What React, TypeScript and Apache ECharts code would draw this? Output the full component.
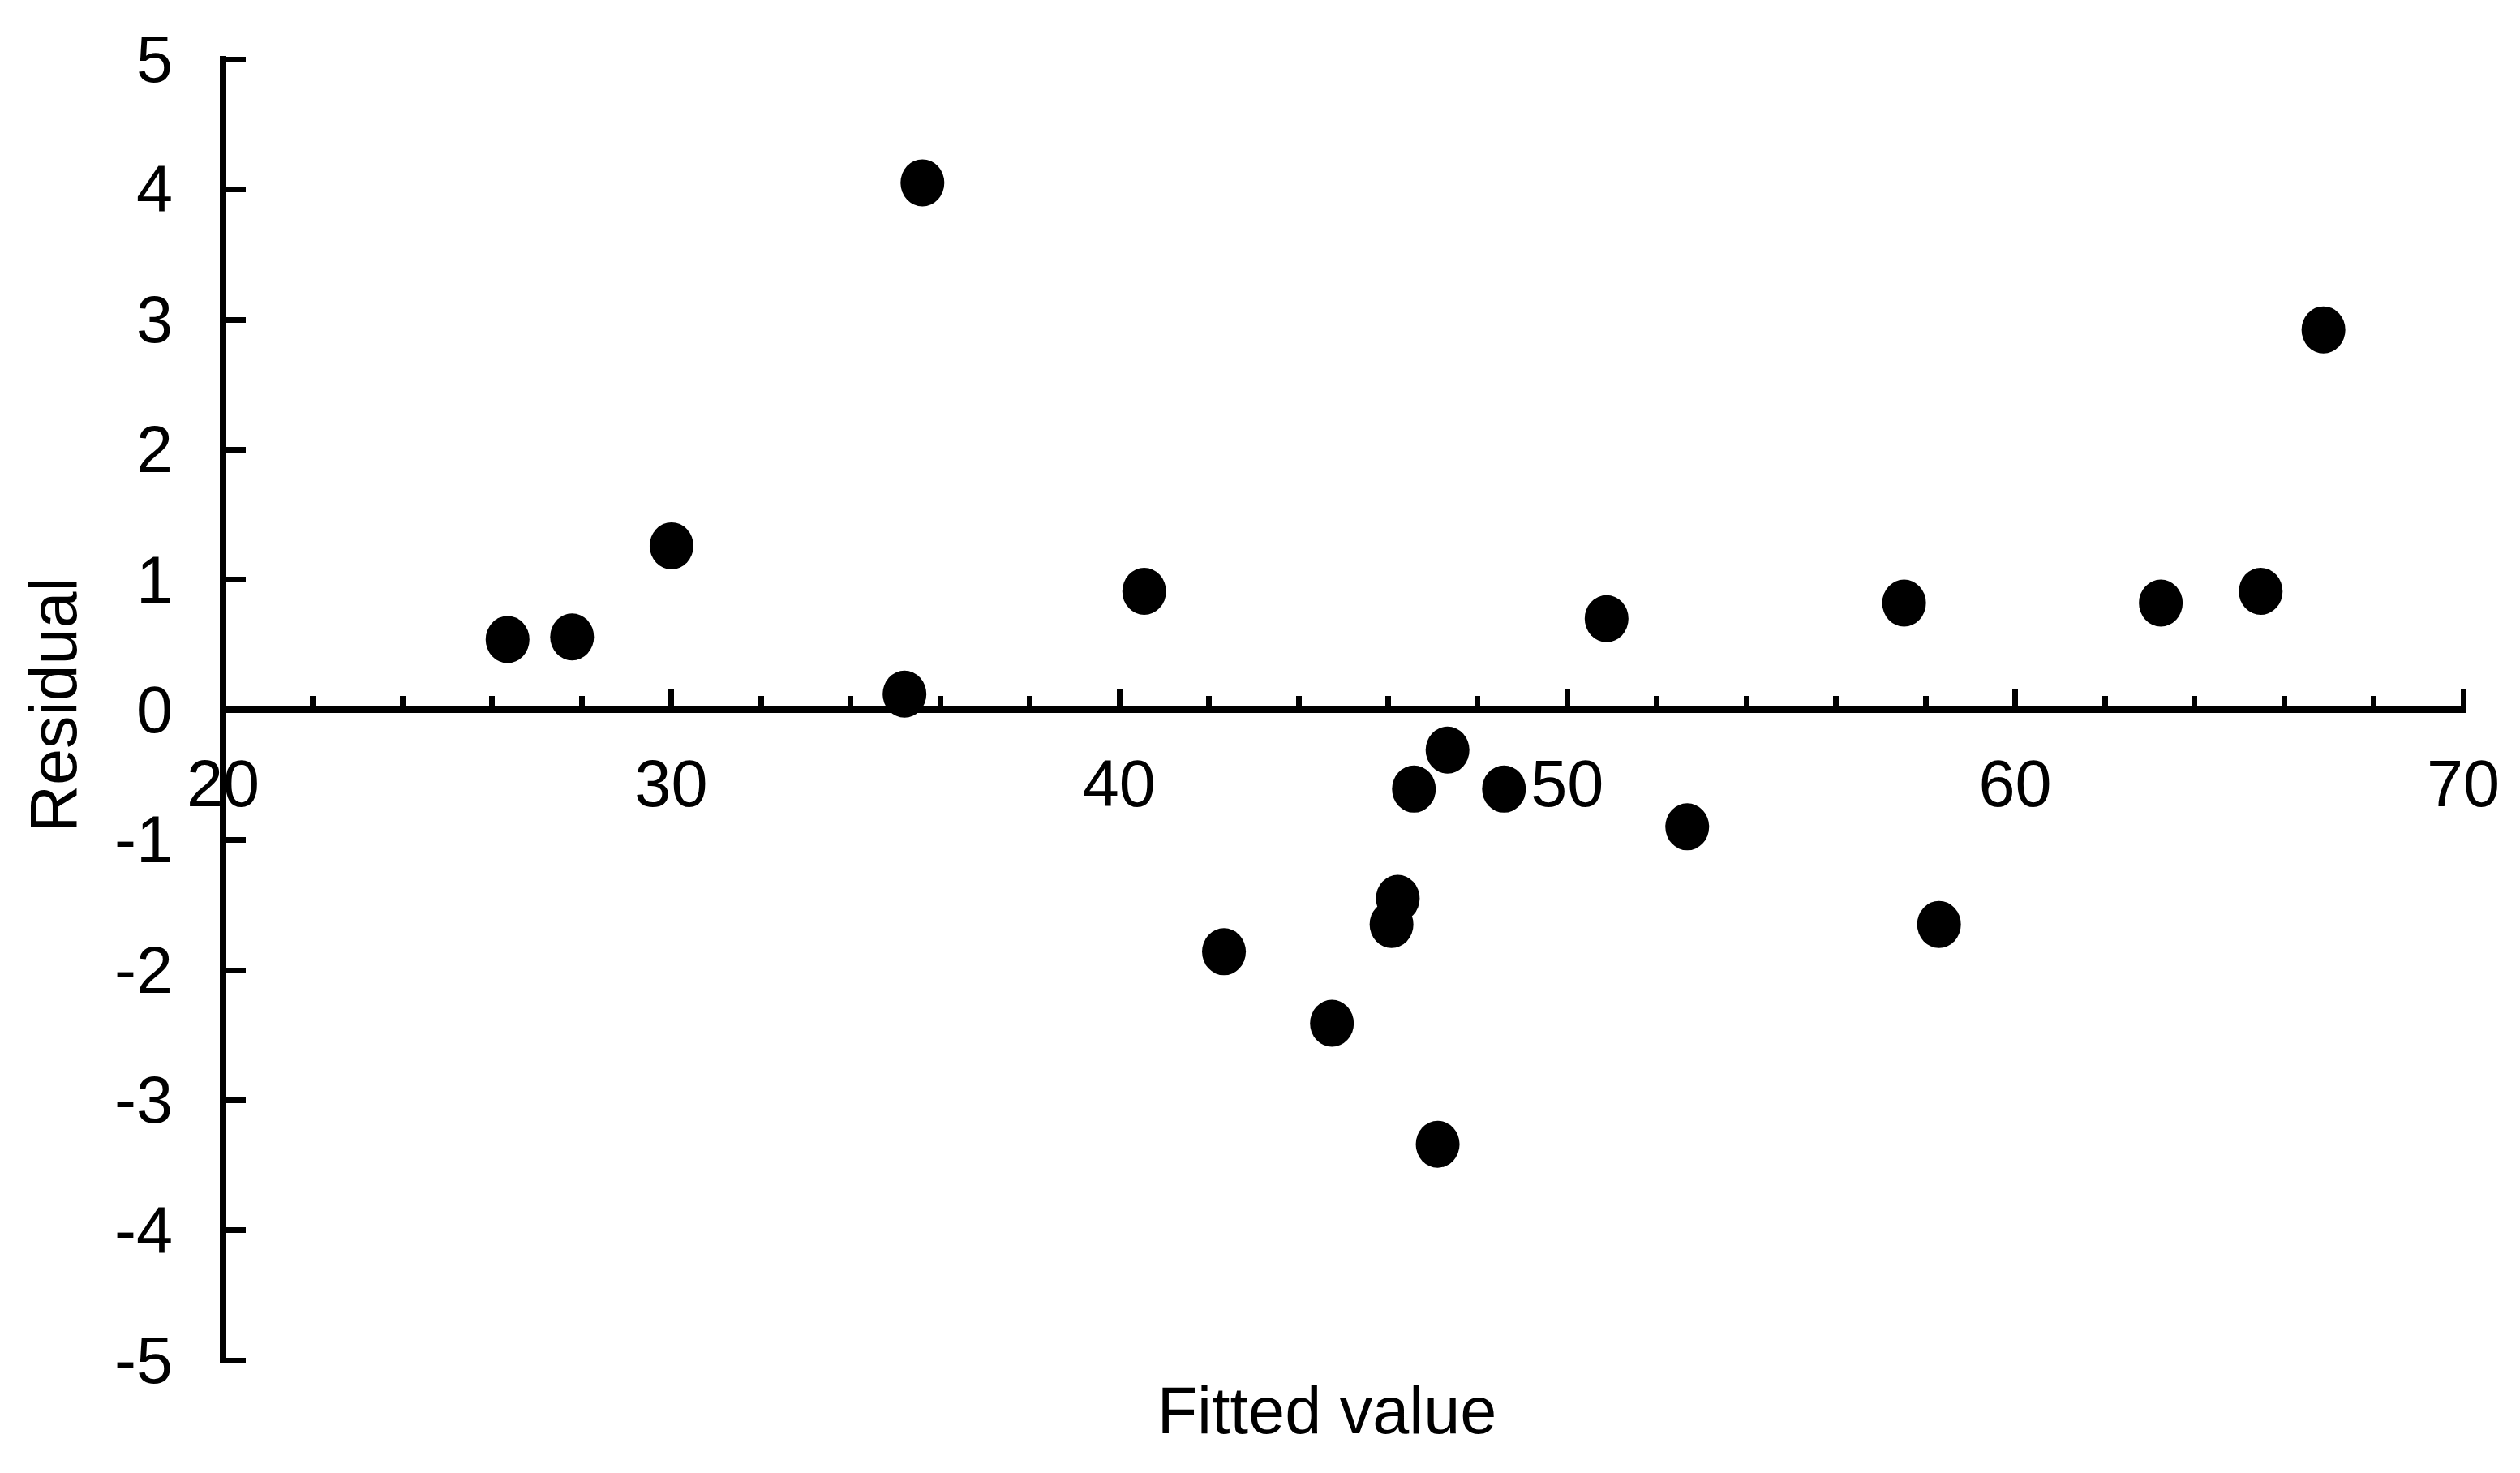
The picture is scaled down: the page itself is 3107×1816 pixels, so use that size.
import React, { useEffect, useRef } from "react";
import * as echarts from "echarts";

const fittedValues: number[] = [
  26.35, 27.79, 30.01, 35.21, 35.61, 40.56, 42.34, 44.75, 46.08, 46.22, 46.58,
  47.11, 47.33, 48.59, 50.88, 52.68, 57.52, 58.3, 63.25, 65.48, 66.88,
];
const residuals: number[] = [
  0.54, 0.56, 1.26, 0.12, 4.05, 0.91, -1.86, -2.41, -1.65, -1.45, -0.61, -3.34,
  -0.31, -0.61, 0.7, -0.9, 0.82, -1.65, 0.82, 0.91, 2.92,
];
const xAxisTitle = "Fitted value";
const yAxisTitle = "Residual";

const FONT = "'Liberation Sans', Arial, Helvetica, sans-serif";
const GRID_TOP = 73;
const GRID_BOTTOM = 139;
const CHART_H = 1816;

export default function App() {
  const ref = useRef<HTMLDivElement>(null);
  useEffect(() => {
    if (!ref.current) return;
    const chart = echarts.init(ref.current, undefined, { renderer: "svg" });
    const data = fittedValues.map((x, i) => [x, residuals[i]]);
    const gridH = CHART_H - GRID_TOP - GRID_BOTTOM;
    chart.setOption({
      animation: false,
      backgroundColor: "#ffffff",
      grid: { left: 275, right: 70, top: GRID_TOP, bottom: GRID_BOTTOM, containLabel: false },
      xAxis: {
        type: "value",
        min: 20,
        max: 70,
        interval: 10,
        offset: -gridH / 2,
        axisLine: { show: true, onZero: false, lineStyle: { color: "#000", width: 8, cap: "square" } },
        axisTick: { show: true, inside: true, length: 26, lineStyle: { color: "#000", width: 7 } },
        minorTick: { show: true, splitNumber: 5, length: 17, lineStyle: { color: "#000", width: 7 } },
        splitLine: { show: false },
        minorSplitLine: { show: false },
        axisLabel: { color: "#000", fontSize: 81, fontFamily: FONT, margin: 50 },
      },
      yAxis: {
        type: "value",
        min: -5,
        max: 5,
        interval: 1,
        axisLine: { show: true, onZero: false, lineStyle: { color: "#000", width: 8, cap: "square" } },
        axisTick: { show: true, inside: true, length: 28, lineStyle: { color: "#000", width: 7 } },
        splitLine: { show: false },
        axisLabel: { color: "#000", fontSize: 81, fontFamily: FONT, margin: 62 },
      },
      graphic: [
        {
          type: "text",
          x: 1636,
          y: 1739,
          style: {
            text: xAxisTitle,
            fill: "#000",
            font: `81px ${FONT}`,
            align: "center",
            verticalAlign: "middle",
          },
        },
        {
          type: "text",
          x: 66,
          y: 869,
          rotation: Math.PI / 2,
          style: {
            text: yAxisTitle,
            fill: "#000",
            font: `81px ${FONT}`,
            align: "center",
            verticalAlign: "middle",
          },
        },
      ],
      series: [
        {
          type: "scatter",
          data,
          symbol: "path://M0,10 A10,10 0 1,1 20,10 A10,10 0 1,1 0,10 Z",
          symbolSize: [54, 58],
          itemStyle: { color: "#000", opacity: 1 },
        },
      ],
    });
    return () => chart.dispose();
  }, []);
  return (
    <div
      ref={ref}
      style={{ position: "fixed", left: 0, top: 0, width: 3107, height: 1816, background: "#fff" }}
    />
  );
}
